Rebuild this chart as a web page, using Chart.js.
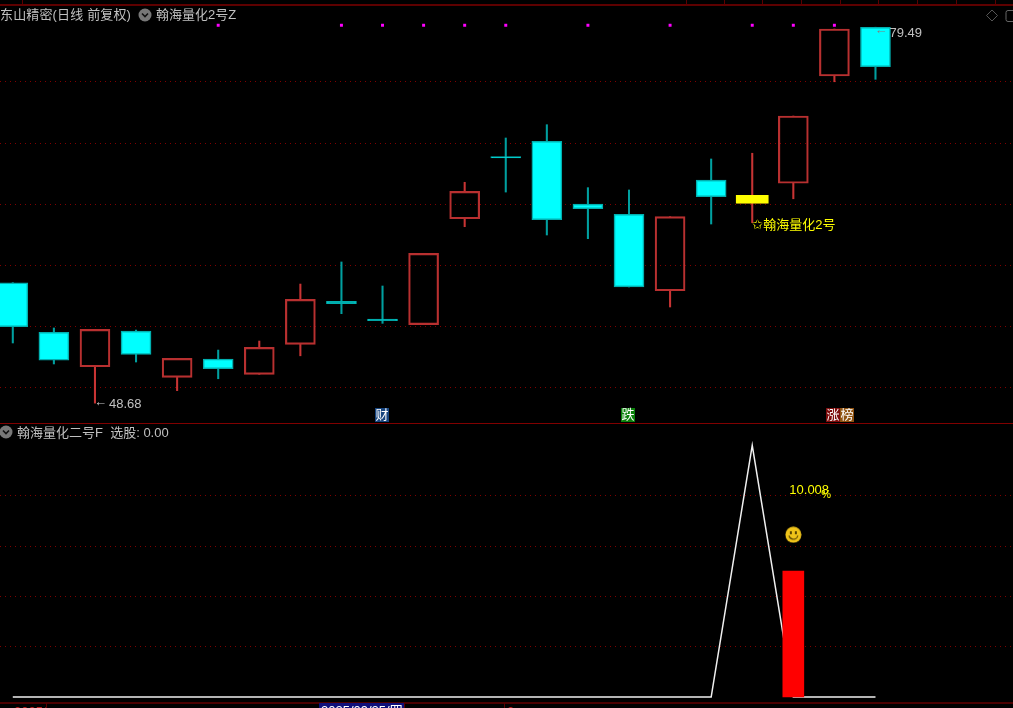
<!DOCTYPE html>
<html>
<head>
<meta charset="utf-8">
<title>翰海量化2号</title>
<script src="https://cdn.jsdelivr.net/npm/chart.js@4/dist/chart.umd.js"></script>
<style>
  html, body { margin: 0; padding: 0; background: #000; overflow: hidden; width: 1013px; height: 708px; }
  body { position: relative; font-family: "Liberation Sans", "Noto Sans CJK SC", sans-serif; font-size: 13px; color: #c0c0c0; }
  canvas { position: absolute; left: 0; display: block; }
  #priceChart { top: 0; }
  #signalChart { top: 424px; }
  .label { position: absolute; white-space: nowrap; line-height: 16px; }
  .badge { position: absolute; top: 408px; width: 14px; height: 14px; line-height: 14px; text-align: center; color: #fff; font-size: 13px; }
  .rule { position: absolute; left: 0; width: 1013px; }
  .tick { position: absolute; top: 0; width: 1px; height: 5px; background: #5a0000; }
  .chev { position: absolute; width: 14px; height: 14px; }
</style>
</head>
<body>
  <canvas id="priceChart" width="1013" height="424"></canvas>
  <canvas id="signalChart" width="1013" height="284"></canvas>

  <div class="rule" style="top:4px;height:2px;background:#5e0000"></div>
  <div class="rule" style="top:423px;height:1px;background:#800000"></div>
  <div class="rule" style="top:702px;height:2px;background:#4a0000"></div>
  <div id="ticks"></div>

  <div class="label" style="left:0;top:7px;letter-spacing:0.15px">东山精密(日线 前复权)</div>
  <svg class="chev" style="left:138px;top:8px" viewBox="0 0 14 14"><circle cx="7" cy="7" r="6.5" fill="#777"/><path d="M4 5.5l3 3 3-3" stroke="#111" stroke-width="1.6" fill="none"/></svg>
  <div class="label" style="left:156px;top:7px">翰海量化2号Z</div>
  <svg style="position:absolute;left:985px;top:8px" width="28" height="16"><path d="M7 2l5.5 5.5L7 13 1.5 7.5z" stroke="#555" fill="none"/><rect x="21" y="2.5" width="10" height="11" rx="2" stroke="#666" fill="none"/></svg>

  <svg class="chev" style="left:-1px;top:425px" viewBox="0 0 14 14"><circle cx="7" cy="7" r="6.5" fill="#777"/><path d="M4 5.5l3 3 3-3" stroke="#111" stroke-width="1.6" fill="none"/></svg>
  <div class="label" style="left:17px;top:425px">翰海量化二号F&nbsp;&nbsp;选股: 0.00</div>

  <div class="badge" style="left:375px;background:#17457f">财</div>
  <div class="badge" style="left:621px;background:#0b800b">跌</div>
  <div class="badge" style="left:826px;background:#7d0c0c">涨</div>
  <div class="badge" style="left:840px;background:#8f5210">榜</div>

  <div class="label" style="left:14px;top:704px;color:#c02020">2025/</div>
  <div class="label" style="left:319px;top:703px;width:85px;background:#10107a;color:#fff;padding-left:2px;box-sizing:border-box">2025/09/25/四</div>
  <div class="label" style="left:507px;top:704px;color:#c02020">2</div>
  <div class="rule" style="left:46px;top:703px;width:1px;height:5px;background:#5a0000"></div>
  <div class="rule" style="left:404px;top:703px;width:1px;height:5px;background:#5a0000"></div>
  <div class="rule" style="left:504px;top:703px;width:1px;height:5px;background:#5a0000"></div>

<script>
// daily candles
const opens  = [58.55, 54.48, 51.66, 54.59, 50.79, 52.29, 51.04, 53.50, 57.02, 55.57, 55.11, 63.79, 68.88, 70.14, 65.00, 64.16, 57.89, 66.97, 65.06, 66.70, 75.49, 79.49];
const highs  = [58.55, 54.84, 54.73, 54.67, 52.35, 53.03, 53.77, 58.44, 60.25, 58.28, 60.96, 66.78, 70.41, 71.50, 66.34, 66.15, 63.96, 68.69, 69.16, 72.21, 79.34, 79.49];
const lows   = [53.61, 51.89, 48.68, 52.05, 49.70, 50.68, 51.04, 52.56, 56.01, 55.22, 55.11, 63.14, 65.98, 62.46, 62.16, 58.20, 56.56, 63.36, 63.47, 65.43, 75.02, 75.22];
const closes = [54.94, 52.21, 54.73, 52.68, 52.35, 51.50, 53.25, 57.19, 56.83, 55.43, 60.96, 66.04, 68.77, 63.71, 64.61, 58.20, 63.96, 65.60, 65.71, 72.21, 79.34, 76.25];

const markerDays = [5, 8, 9, 10, 11, 12, 14, 16, 18, 19, 20];
const markerPrice = 79.65;
const signalDay = 18;
const signalBody = [65.06, 65.71];
const priceTicks = [50, 55, 60, 65, 70, 75];

// lower panel
const selectLine = [0, 0, 0, 0, 0, 0, 0, 0, 0, 0, 0, 0, 0, 0, 0, 0, 0, 0, 20, 0, 0, 0];
const gainDay = 19;
const gainValue = 10;
const smileValue = 12.9;
const lowerTicks = [4, 8, 12, 16];

const rulerTicks = [22, 686, 724, 762, 801, 840, 878, 917, 956, 995];

const RED = '#b83030';
const WICK_RED = '#c83434';
const CYAN = '#00ffff';
const TEAL = '#00a0a0';
const GRID = '#800000';
const FONT = '"Liberation Sans", "Noto Sans CJK SC", sans-serif';

const days = opens.map((_, i) => i);
const isUp = i => closes[i] >= opens[i];

// both panels share this x scale, the chart starts part way through the first candle
const slot = 41.08;
const firstCentre = 12.8;
const xMin = -firstCentre / slot;
const xMax = xMin + 1013 / slot;

function xScale() {
  return { type: 'linear', display: false, offset: false, min: xMin, max: xMax };
}

function gridY(tickValues, min, max) {
  return {
    min: min,
    max: max,
    afterBuildTicks: axis => { axis.ticks = tickValues.map(v => ({ value: v })); },
    grid: { color: GRID, drawTicks: false, lineWidth: 1 },
    border: { display: false, dash: [1, 4] },
    ticks: { display: false }
  };
}

// text that belongs to a data point, placed with the chart's scales
const priceLabels = {
  id: 'priceLabels',
  afterDraw(chart) {
    const { ctx, scales: { x, y } } = chart;
    const hi = Math.max(...highs);
    const lo = Math.min(...lows);
    const loX = x.getPixelForValue(lows.indexOf(lo));
    const hiX = x.getPixelForValue(highs.indexOf(hi));
    ctx.save();
    ctx.textBaseline = 'middle';
    ctx.font = '13px ' + FONT;
    ctx.fillStyle = '#c8c8c8';
    ctx.fillText('←', loX - 1, y.getPixelForValue(lo) - 1);
    ctx.fillStyle = '#808080';
    ctx.fillText('←', hiX - 1, y.getPixelForValue(hi) + 3);
    ctx.fillStyle = '#c0c0c0';
    ctx.fillText(lo.toFixed(2), loX + 14, y.getPixelForValue(lo) + 1);
    ctx.fillText(hi.toFixed(2), hiX + 14, y.getPixelForValue(hi) + 6);
    ctx.fillStyle = '#ffff00';
    ctx.font = '13px ' + FONT;
    ctx.fillText('✩翰海量化2号', x.getPixelForValue(signalDay), y.getPixelForValue(lows[signalDay]) + 3);
    ctx.restore();
  }
};

const gainLabels = {
  id: 'gainLabels',
  afterDraw(chart) {
    const { ctx, scales: { x, y } } = chart;
    ctx.save();
    ctx.textBaseline = 'middle';
    ctx.fillStyle = '#ffff00';
    ctx.font = '13px ' + FONT;
    const px = x.getPixelForValue(gainDay);
    ctx.fillText('10.008', px - 4, y.getPixelForValue(16) - 5);
    ctx.font = '11px ' + FONT;
    ctx.fillText('%', px + 28, y.getPixelForValue(16) - 1);
    ctx.restore();
  }
};

function smileIcon() {
  const c = document.createElement('canvas');
  c.width = 17;
  c.height = 17;
  const g = c.getContext('2d');
  g.fillStyle = '#f0c41a';
  g.beginPath();
  g.arc(8.5, 8.5, 8, 0, Math.PI * 2);
  g.fill();
  g.fillStyle = '#5a4500';
  g.fillRect(5, 5, 2, 3);
  g.fillRect(10, 5, 2, 3);
  g.strokeStyle = '#5a4500';
  g.lineWidth = 1.2;
  g.beginPath();
  g.arc(8.5, 8.5, 4.5, 0.2, Math.PI - 0.2);
  g.stroke();
  return c;
}

new Chart(document.getElementById('priceChart'), {
  type: 'bar',
  data: {
    datasets: [
      {
        label: 'upper wick',
        data: days.map(i => ({ x: i, y: [Math.max(opens[i], closes[i]), highs[i]] })),
        backgroundColor: days.map(i => isUp(i) ? WICK_RED : TEAL),
        barThickness: 1.4,
        grouped: false,
        order: 4
      },
      {
        label: 'lower wick',
        data: days.map(i => ({ x: i, y: [lows[i], Math.min(opens[i], closes[i])] })),
        backgroundColor: days.map(i => isUp(i) ? WICK_RED : TEAL),
        barThickness: 1.4,
        grouped: false,
        order: 4
      },
      {
        label: 'body',
        data: days.map(i => ({ x: i, y: [opens[i], closes[i]] })),
        backgroundColor: days.map(i => isUp(i) ? 'rgba(0,0,0,0)' : CYAN),
        borderColor: days.map(i => isUp(i) ? RED : '#00b0b0'),
        borderWidth: 1.5,
        borderSkipped: false,
        barThickness: 30,
        grouped: false,
        order: 3
      },
      {
        label: 'signal',
        data: [{ x: signalDay, y: signalBody }],
        backgroundColor: '#ffff00',
        barThickness: 32,
        grouped: false,
        order: 2
      },
      {
        type: 'scatter',
        label: 'markers',
        data: markerDays.map(d => ({ x: d, y: markerPrice })),
        pointStyle: 'rect',
        pointRadius: 2.1,
        backgroundColor: '#ff00ff',
        borderWidth: 0,
        order: 1
      }
    ]
  },
  options: {
    responsive: false,
    animation: false,
    layout: { padding: 0, autoPadding: false },
    plugins: { legend: { display: false }, tooltip: { enabled: false } },
    scales: {
      x: xScale(),
      y: gridY(priceTicks, 46.97, 81.72)
    }
  },
  plugins: [priceLabels]
});

new Chart(document.getElementById('signalChart'), {
  type: 'bar',
  data: {
    datasets: [
      {
        type: 'line',
        label: '选股',
        data: days.map(i => ({ x: i, y: selectLine[i] })),
        borderColor: '#f0f0f0',
        borderWidth: 1.5,
        pointRadius: 0,
        tension: 0,
        order: 3
      },
      {
        label: 'gain',
        data: [{ x: gainDay, y: gainValue }],
        backgroundColor: '#ff0000',
        barThickness: 21,
        order: 2
      },
      {
        type: 'scatter',
        label: 'smile',
        data: [{ x: gainDay, y: smileValue }],
        pointStyle: smileIcon(),
        order: 1
      }
    ]
  },
  options: {
    responsive: false,
    animation: false,
    layout: { padding: 0, autoPadding: false },
    plugins: { legend: { display: false }, tooltip: { enabled: false } },
    scales: {
      x: xScale(),
      y: gridY(lowerTicks, -0.874, 21.7)
    }
  },
  plugins: [gainLabels]
});

// ruler marks along the top edge
const ticksBox = document.getElementById('ticks');
rulerTicks.forEach(x => {
  const t = document.createElement('div');
  t.className = 'tick';
  t.style.left = x + 'px';
  ticksBox.appendChild(t);
});
</script>
</body>
</html>
